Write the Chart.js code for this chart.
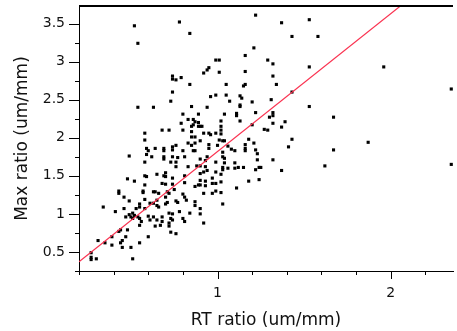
<!DOCTYPE html>
<html>
<head>
<meta charset="utf-8">
<script src="https://cdn.jsdelivr.net/npm/chart.js@4.4.1/dist/chart.umd.min.js"></script>
<style>
  html, body { margin: 0; padding: 0; background: #fff; }
  #wrap { width: 457px; height: 331px; overflow: hidden; }
</style>
</head>
<body>
<div id="wrap"><canvas id="chart" width="457" height="331"></canvas></div>
<script>
// RT ratio (x) and Max ratio (y)
const rtRatio = [
  0.49, 0.60, 0.62, 0.69, 0.69, 0.74, 0.77, 0.81, 0.58, 0.76, 0.87, 0.83, 0.88, 0.90, 0.93, 0.93, 0.76, 0.92, 0.65, 0.58,
  0.59, 0.48, 0.52, 0.69, 0.70, 0.70, 0.81, 0.74, 0.68, 0.70, 0.58, 0.74, 0.81, 0.87, 0.89, 0.93, 0.93, 0.43, 0.43, 0.57,
  0.57, 0.63, 0.64, 0.66, 0.71, 0.72, 0.75, 0.80, 0.81, 0.82, 0.46, 0.49, 0.58, 0.65, 0.70, 0.71, 0.70, 0.76, 0.77, 0.87,
  0.87, 0.61, 0.63, 0.65, 0.55, 0.55, 0.34, 0.46, 0.41, 0.53, 0.51, 0.58, 0.66, 0.72, 0.74, 0.78, 0.84, 0.90, 0.49, 0.50,
  0.51, 0.52, 0.47, 0.54, 0.55, 0.56, 0.60, 0.61, 0.63, 0.65, 0.68, 0.68, 0.73, 0.74, 0.55, 0.64, 0.67, 0.72, 0.72, 0.80,
  0.81, 0.92, 0.43, 0.44, 0.48, 0.47, 0.45, 0.44, 0.39, 0.31, 0.35, 0.39, 0.45, 0.50, 0.55, 0.60, 0.73, 0.76, 0.27, 0.27,
  0.27, 0.30, 0.51, 0.84, 1.43, 1.21, 1.16, 0.99, 1.01, 1.29, 1.32, 0.95, 0.94, 0.92, 1.01, 1.16, 0.74, 0.74, 0.76, 0.79,
  1.32, 0.84, 1.05, 1.15, 1.16, 1.34, 0.74, 1.43, 0.99, 0.96, 1.05, 1.13, 1.14, 0.73, 1.07, 1.20, 1.31, 0.63, 0.85, 0.94,
  1.13, 1.13, 0.80, 0.89, 1.04, 1.11, 1.11, 1.22, 1.32, 1.30, 1.32, 0.83, 0.79, 0.86, 0.87, 0.89, 0.89, 0.90, 0.91, 0.86,
  0.85, 1.13, 1.02, 1.39, 0.68, 0.72, 0.80, 0.85, 0.85, 0.87, 0.92, 0.95, 0.96, 0.99, 1.02, 1.02, 1.27, 1.29, 1.32, 1.37,
  0.90, 0.87, 0.83, 0.85, 0.76, 0.74, 0.74, 0.69, 0.69, 0.64, 0.80, 0.86, 0.95, 0.95, 1.01, 1.03, 1.04, 1.00, 1.06, 1.08,
  1.10, 1.16, 1.16, 1.16, 1.18, 1.21, 1.22, 1.43, 1.41, 1.23, 1.03, 1.03, 1.04, 0.94, 0.99, 0.90, 1.23, 1.32, 1.04, 1.03,
  1.03, 1.10, 1.10, 1.12, 1.15, 1.22, 1.24, 1.25, 1.06, 0.90, 0.94, 0.99, 1.02, 0.97, 1.37, 0.90, 0.90, 0.97, 0.99, 1.02,
  1.18, 1.24, 1.11, 0.92, 0.97, 0.99, 1.02, 1.03, 0.90, 0.52, 0.54, 0.78, 1.22, 0.54, 1.02, 1.20, 0.58, 0.58, 0.59, 0.59,
  0.73, 1.37, 1.53, 1.58, 1.53, 1.96, 2.35, 1.53, 1.67, 1.67, 1.87, 1.62, 2.35
];
const maxRatio = [
  1.76, 1.83, 1.75, 1.75, 1.72, 1.75, 1.74, 1.75, 1.68, 1.68, 1.83, 1.62, 1.63, 1.63, 1.70, 1.62, 1.62, 1.55, 1.52, 1.50,
  1.49, 1.46, 1.43, 1.50, 1.54, 1.49, 1.50, 1.47, 1.40, 1.39, 1.38, 1.39, 1.41, 1.36, 1.38, 1.43, 1.37, 1.30, 1.27, 1.30,
  1.28, 1.29, 1.29, 1.27, 1.29, 1.27, 1.32, 1.26, 1.22, 1.18, 1.22, 1.17, 1.19, 1.18, 1.22, 1.15, 1.13, 1.17, 1.15, 1.16,
  1.11, 1.14, 1.14, 1.11, 1.13, 1.09, 1.09, 1.07, 1.03, 1.07, 1.01, 1.07, 1.09, 1.01, 1.00, 1.03, 1.01, 1.07, 0.99, 0.96,
  0.94, 0.98, 0.96, 0.96, 0.94, 0.90, 0.97, 0.92, 0.96, 0.92, 0.96, 0.90, 0.94, 0.92, 0.85, 0.84, 0.85, 0.88, 0.84, 0.94,
  0.90, 0.88, 0.77, 0.79, 0.79, 0.70, 0.65, 0.62, 0.70, 0.65, 0.62, 0.59, 0.56, 0.56, 0.62, 0.70, 0.76, 0.74, 0.49, 0.43,
  0.40, 0.41, 0.41, 3.37, 3.33, 3.18, 3.08, 3.02, 3.02, 3.02, 2.97, 2.92, 2.89, 2.85, 2.86, 2.87, 2.81, 2.77, 2.76, 2.79,
  2.81, 2.70, 2.70, 2.68, 2.70, 2.70, 2.60, 2.60, 2.56, 2.54, 2.56, 2.55, 2.52, 2.48, 2.48, 2.47, 2.50, 2.40, 2.41, 2.40,
  2.43, 2.41, 2.31, 2.31, 2.31, 2.32, 2.29, 2.33, 2.33, 2.27, 2.29, 2.24, 2.19, 2.24, 2.21, 2.20, 2.15, 2.15, 2.15, 2.17,
  2.15, 2.22, 2.22, 2.21, 2.10, 2.10, 2.10, 2.08, 2.01, 2.01, 2.06, 2.06, 2.04, 2.06, 2.10, 2.05, 2.11, 2.10, 2.19, 2.14,
  1.96, 1.93, 1.93, 1.90, 1.90, 1.88, 1.84, 1.86, 1.83, 1.86, 1.83, 1.83, 1.91, 1.86, 1.97, 1.96, 1.96, 1.90, 1.89, 1.85,
  1.83, 1.91, 1.86, 1.83, 1.98, 1.93, 1.84, 1.98, 1.88, 1.79, 1.81, 1.75, 1.73, 1.75, 1.68, 1.72, 1.71, 1.71, 1.67, 1.61,
  1.58, 1.67, 1.60, 1.61, 1.61, 1.58, 1.61, 1.61, 1.60, 1.53, 1.57, 1.55, 1.52, 1.47, 1.57, 1.44, 1.38, 1.40, 1.40, 1.42,
  1.43, 1.45, 1.34, 1.27, 1.27, 1.30, 1.28, 1.13, 1.00, 3.47, 3.24, 3.52, 3.61, 2.40, 2.15, 2.17, 2.06, 1.97, 1.86, 1.78,
  1.68, 3.51, 3.55, 3.33, 2.93, 2.93, 2.64, 2.41, 2.27, 1.84, 1.94, 1.63, 1.65
];

// red fitted line, two ends (runs off the top of the plot)
const fitX = [0.2, 2.36];
const fitY = [0.37, 4.28];

// axis ticks: every tick gets a mark, only majors get a label
const xTicks = [0.2, 0.4, 0.6, 0.8, 1, 1.2, 1.4, 1.6, 1.8, 2, 2.2];
const xMajor = [1, 2];
const yTicks = [0.25, 0.5, 0.75, 1, 1.25, 1.5, 1.75, 2, 2.25, 2.5, 2.75, 3, 3.25, 3.5];
const yMajor = [0.5, 1, 1.5, 2, 2.5, 3, 3.5];

const points = rtRatio.map((x, i) => ({ x: x, y: maxRatio[i] }));
const fitLine = fitX.map((x, i) => ({ x: x, y: fitY[i] }));

const labelFont = { family: 'DejaVu Sans', size: 14 };
const titleFont = { family: 'DejaVu Sans', size: 17 };

const tickMarks = {
  id: 'tickMarks',
  afterDraw(chart) {
    const { ctx, chartArea: a, scales: { x, y } } = chart;
    ctx.save();
    ctx.strokeStyle = '#000';
    ctx.lineWidth = 1;
    ctx.beginPath();
    x.ticks.forEach(t => {
      const px = Math.round(x.getPixelForValue(t.value)) + 0.5;
      const len = xMajor.includes(t.value) ? 8 : 4;
      ctx.moveTo(px, a.bottom);
      ctx.lineTo(px, a.bottom + len);
    });
    y.ticks.forEach(t => {
      const py = Math.round(y.getPixelForValue(t.value)) + 0.5;
      const len = yMajor.includes(t.value) ? 10 : 4;
      ctx.moveTo(a.left, py);
      ctx.lineTo(a.left - len, py);
    });
    ctx.stroke();
    // frame line along the top
    ctx.lineWidth = 2;
    ctx.beginPath();
    ctx.moveTo(a.left, a.top);
    ctx.lineTo(a.right, a.top);
    ctx.stroke();
    ctx.restore();
  }
};

new Chart(document.getElementById('chart'), {
  type: 'scatter',
  data: {
    datasets: [
      {
        type: 'line',
        data: fitLine,
        borderColor: 'rgb(250,50,80)',
        borderWidth: 1.2,
        pointRadius: 0,
        fill: false
      },
      {
        data: points,
        pointStyle: 'rect',
        pointRadius: 2.2,
        backgroundColor: '#000',
        borderWidth: 0
      }
    ]
  },
  options: {
    responsive: false,
    animation: false,
    events: [],
    layout: { padding: { top: 6, right: 0, bottom: 0, left: 0 } },
    plugins: { legend: { display: false }, tooltip: { enabled: false } },
    scales: {
      x: {
        type: 'linear',
        min: 0.2,
        max: 2.36,
        afterBuildTicks: scale => { scale.ticks = xTicks.map(v => ({ value: v })); },
        afterFit: scale => {
          scale.height = 60;
          scale.paddingLeft = 0;
          scale.paddingRight = 0;
        },
        grid: { display: false, drawTicks: false },
        border: { display: true, color: '#000', width: 1 },
        ticks: {
          autoSkip: false,
          maxRotation: 0,
          padding: 14,
          color: '#111',
          font: labelFont,
          callback: v => xMajor.includes(v) ? String(v) : ''
        },
        title: {
          display: true,
          text: 'RT ratio (um/mm)',
          color: '#111',
          font: titleFont,
          padding: { top: 0, bottom: 0 }
        }
      },
      y: {
        type: 'linear',
        min: 0.25,
        max: 3.73,
        afterBuildTicks: scale => { scale.ticks = yTicks.map(v => ({ value: v })); },
        afterFit: scale => {
          scale.width = 79;
          scale.paddingTop = 0;
          scale.paddingBottom = 0;
        },
        grid: { display: false, drawTicks: false },
        border: { display: true, color: '#000', width: 1 },
        ticks: {
          autoSkip: false,
          padding: 14,
          color: '#111',
          font: labelFont,
          callback: v => yMajor.includes(v) ? String(v) : ''
        },
        title: {
          display: true,
          text: 'Max ratio (um/mm)',
          color: '#111',
          font: titleFont,
          padding: { top: 12, bottom: 0 }
        }
      }
    }
  },
  plugins: [tickMarks]
});
</script>
</body>
</html>
